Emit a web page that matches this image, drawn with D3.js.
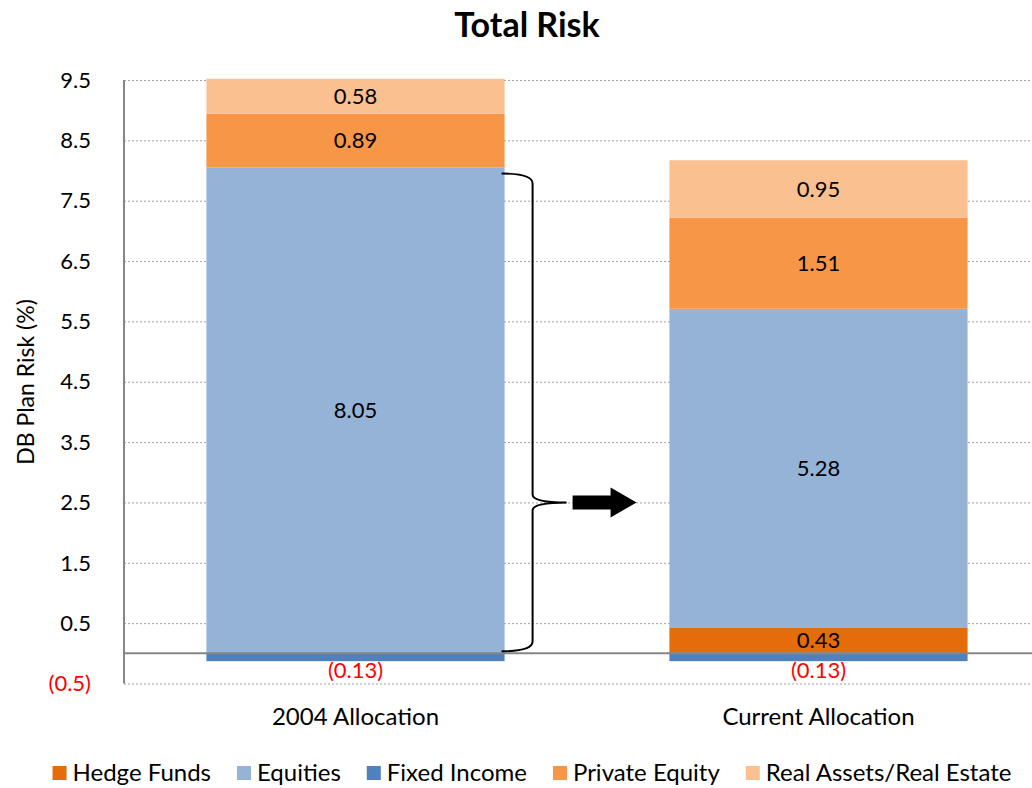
<!DOCTYPE html>
<html>
<head>
<meta charset="utf-8">
<script src="https://cdn.jsdelivr.net/npm/d3@7"></script>
<style>
body { margin: 0; background: #fff; }
svg { font-family: Lato, "Open Sans", sans-serif; }
.grid line { stroke: #a0a0a0; stroke-dasharray: 2,2; }
.grid path { stroke-width: 0; }
</style>
</head>
<body>
<div id="chart"></div>
<script>

var width = 1032;
var height = 788;
var margin = ({top: 80, right: -18, bottom: 105, left: 124});

// data
var categories = ["2004 Allocation", "Current Allocation"];
var seriesNames = ["Hedge Funds", "Equities", "Fixed Income", "Private Equity", "Real Assets/Real Estate"];
var hedgeFunds = [0, 0.43];
var equities = [8.05, 5.28];
var fixedIncome = [-0.13, -0.13];
var privateEquity = [0.89, 1.51];
var realAssets = [0.58, 0.95];
var yTicks = [-0.5, 0.5, 1.5, 2.5, 3.5, 4.5, 5.5, 6.5, 7.5, 8.5, 9.5];

var colors = {
  "Hedge Funds": "#e46c0a",
  "Equities": "#95b3d7",
  "Fixed Income": "#4f81bd",
  "Private Equity": "#f79646",
  "Real Assets/Real Estate": "#fac090"
};

var rows = categories.map(function(c, i) {
  return {cat: c, "Hedge Funds": hedgeFunds[i], "Equities": equities[i], "Fixed Income": fixedIncome[i],
    "Private Equity": privateEquity[i], "Real Assets/Real Estate": realAssets[i]};
});

var svg = d3.select("#chart").append("svg")
  .attr("width", width).attr("height", height);

var y = d3.scaleLinear()
  .domain([-0.5, 9.5])
  .range([height - margin.bottom + 0.5, margin.top]);

var x = d3.scaleBand()
  .domain(categories)
  .range([margin.left, width - margin.right])
  .paddingInner(0.356)
  .paddingOuter(0.178);

// grid
svg.append("g")
  .attr("class", "grid")
  .attr("transform", `translate(${margin.left},0)`)
  .call(d3.axisLeft(y).tickValues(yTicks).tickSize(-(width - margin.left)).tickFormat(""));

// stacked bars (positive stack order bottom-up)
var stackOrder = ["Hedge Funds", "Equities", "Private Equity", "Real Assets/Real Estate"];
var stacked = d3.stack().keys(stackOrder)(rows);

var segs = [];
stacked.forEach(function(s) {
  s.forEach(function(d) {
    segs.push({key: s.key, cat: d.data.cat, y0: d[0], y1: d[1], v: d.data[s.key]});
  });
});
rows.forEach(function(r) {
  segs.push({key: "Fixed Income", cat: r.cat, y0: r["Fixed Income"], y1: 0, v: r["Fixed Income"]});
});

svg.selectAll("rect.seg")
  .data(segs.filter(d => d.v !== 0))
  .enter().append("rect")
    .attr("class", "seg")
    .attr("x", d => x(d.cat))
    .attr("width", x.bandwidth())
    .attr("y", d => y(Math.max(d.y0, d.y1)))
    .attr("height", d => Math.abs(y(d.y0) - y(d.y1)))
    .attr("fill", d => colors[d.key]);

// axis line + zero line
svg.append("line")
  .attr("x1", margin.left).attr("x2", margin.left)
  .attr("y1", y(9.5)).attr("y2", y(-0.5))
  .attr("stroke", "#868686").attr("stroke-width", 2);
svg.append("line")
  .attr("x1", margin.left).attr("x2", width)
  .attr("y1", y(0)).attr("y2", y(0))
  .attr("stroke", "#868686").attr("stroke-width", 2);

// y tick labels
svg.selectAll("text.ytick")
  .data(yTicks).enter().append("text")
    .attr("class", "ytick")
    .attr("x", 91)
    .attr("y", d => y(d))
    .attr("dy", "0.35em")
    .attr("text-anchor", "end")
    .attr("font-size", 22)
    .attr("fill", d => d < 0 ? "#ff0000" : "#000")
    .text(d => d < 0 ? "(" + Math.abs(d) + ")" : d3.format(".1f")(d));

// value labels
svg.selectAll("text.val")
  .data(segs.filter(d => d.v > 0)).enter().append("text")
    .attr("class", "val")
    .attr("x", d => x(d.cat) + x.bandwidth() / 2)
    .attr("y", d => y((d.y0 + d.y1) / 2))
    .attr("dy", "0.35em")
    .attr("text-anchor", "middle")
    .attr("font-size", 22)
    .text(d => d3.format(".2f")(d.v));

svg.selectAll("text.neg")
  .data(segs.filter(d => d.v < 0)).enter().append("text")
    .attr("class", "neg")
    .attr("x", d => x(d.cat) + x.bandwidth() / 2)
    .attr("y", d => y(d.v) + 17)
    .attr("text-anchor", "middle")
    .attr("font-size", 22)
    .attr("fill", "#ff0000")
    .text(d => "(" + d3.format(".2f")(Math.abs(d.v)) + ")");

// category labels
svg.selectAll("text.cat")
  .data(categories).enter().append("text")
    .attr("x", d => x(d) + x.bandwidth() / 2)
    .attr("y", 725)
    .attr("text-anchor", "middle")
    .attr("font-size", 24)
    .text(d => d);

// y axis title
svg.append("text")
  .attr("transform", "translate(34,382) rotate(-90)")
  .attr("text-anchor", "middle")
  .attr("font-size", 23)
  .text("DB Plan Risk (%)");

// title
svg.append("text")
  .attr("x", 527).attr("y", 37)
  .attr("text-anchor", "middle")
  .attr("font-size", 34)
  .attr("font-weight", "bold")
  .text("Total Risk");

// brace round the 2004 equities, pointing at 2.5
var bx0 = x(categories[0]) + x.bandwidth() - 3;
var bx1 = bx0 + 31;
var bTop = y(equities[0]) + 6, bBot = y(0) - 2, bMid = y(2.5);
var brace = `M${bx0},${bTop} Q${bx1},${bTop} ${bx1},${bTop + 10} L${bx1},${bMid - 8} Q${bx1},${bMid} ${bx1 + 34},${bMid}` +
  ` Q${bx1},${bMid} ${bx1},${bMid + 8} L${bx1},${bBot - 10} Q${bx1},${bBot} ${bx0},${bBot}`;
svg.append("path")
  .attr("d", brace)
  .attr("fill", "none").attr("stroke", "#000").attr("stroke-width", 2);

// arrow
var ax = bx1 + 40;
svg.append("path")
  .attr("d", `M${ax},${bMid - 7} L${ax + 38},${bMid - 7} L${ax + 38},${bMid - 15} L${ax + 64},${bMid} L${ax + 38},${bMid + 15} L${ax + 38},${bMid + 7} L${ax},${bMid + 7} Z`)
  .attr("fill", "#000");

// legend
var legend = svg.append("g");
var lx = 0;
seriesNames.forEach(function(name) {
  var g = legend.append("g").attr("transform", `translate(${lx},0)`);
  g.append("rect").attr("x", 0).attr("y", -7).attr("width", 14).attr("height", 14).attr("fill", colors[name]);
  var t = g.append("text").attr("x", 20).attr("dy", "0.35em").attr("font-size", 24).text(name);
  lx += 20 + t.node().getComputedTextLength() + 26;
});
lx -= 26;
legend.attr("transform", `translate(${532 - lx / 2},773)`);

</script>
</body>
</html>
